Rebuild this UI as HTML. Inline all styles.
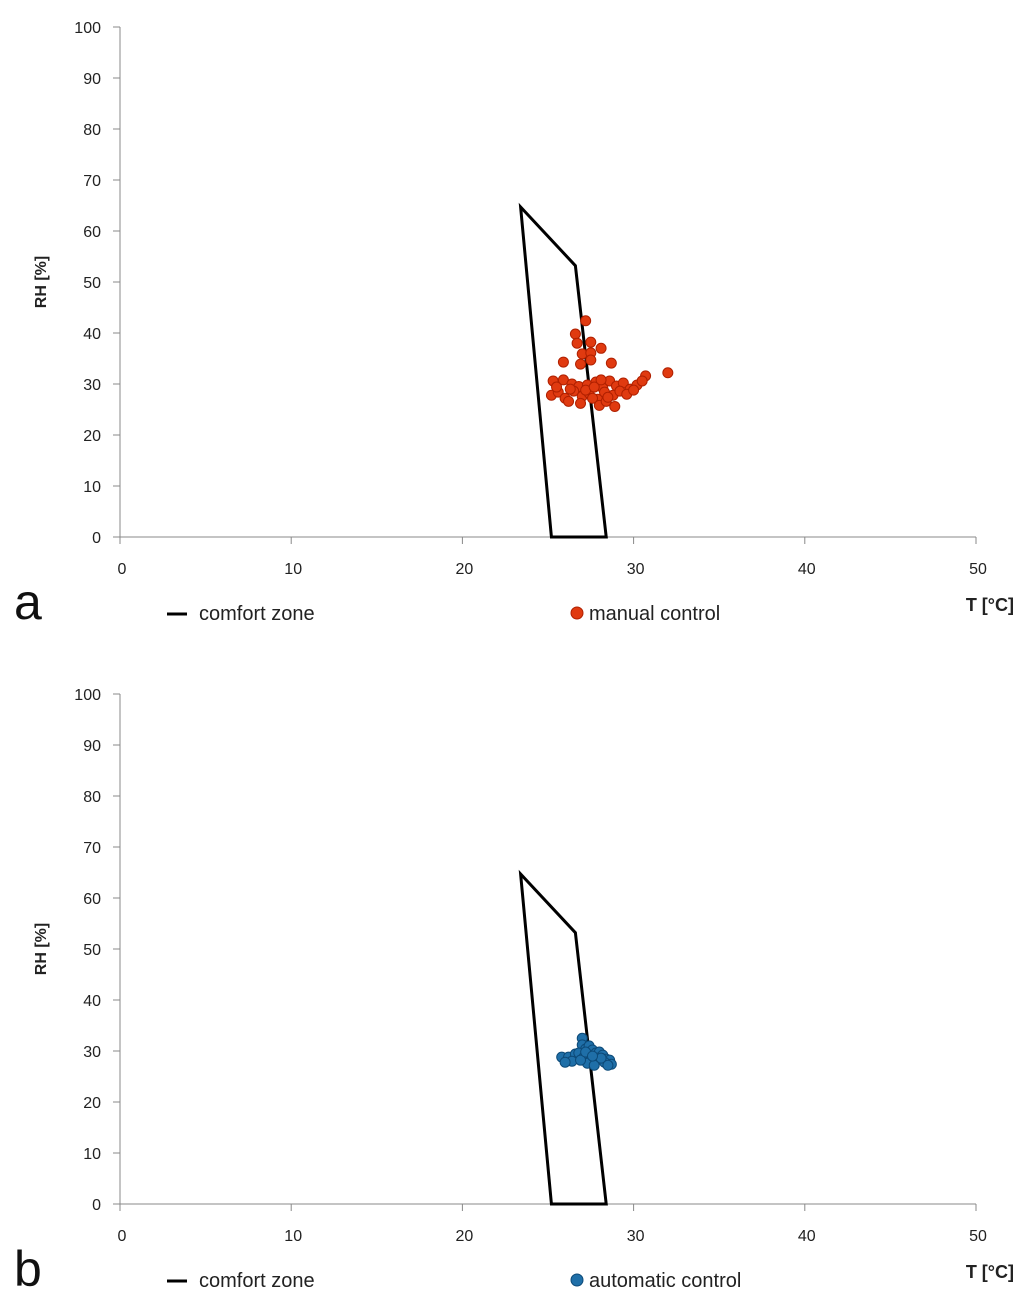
<!DOCTYPE html>
<html><head><meta charset="utf-8"><style>
body{margin:0;background:#fff;}
svg{display:block;font-family:"Liberation Sans",sans-serif;}
</style></head><body>
<svg id="chart" width="1024" height="1312"></svg>
<script>
const xTicks=[0,10,20,30,40,50];
const yTicks=[0,10,20,30,40,50,60,70,80,90,100];
const zoneT=[23.4,26.6,28.4,25.2];
const zoneRH=[64.7,53.2,0,0];
const manualT=[27.2,26.6,26.7,27.5,28.1,27.0,27.5,25.9,26.9,27.5,28.7,32.0,30.7,25.3,25.9,26.4,26.8,27.3,27.8,28.2,28.6,29.0,29.4,29.8,30.2,30.5,25.2,25.6,26.0,26.5,27.0,27.4,27.9,28.3,28.8,29.2,29.6,25.5,26.2,26.9,27.6,28.0,28.4,28.9,27.2,27.7,28.1,28.5,26.3,30.0];
const manualRH=[42.4,39.8,38.0,38.2,37.0,35.9,36.1,34.3,33.9,34.7,34.1,32.2,31.6,30.6,30.8,30.0,29.5,29.8,30.4,29.2,30.6,29.6,30.2,29.0,29.8,30.6,27.8,28.4,27.2,28.6,27.6,28.2,27.0,28.4,27.8,28.6,28.0,29.4,26.6,26.2,27.2,25.8,26.6,25.6,28.8,29.4,30.8,27.4,29.0,28.8];
const autoT=[25.8,26.2,26.6,27.0,27.0,27.2,27.4,27.6,27.8,28.0,28.2,28.4,28.6,28.7,26.8,27.1,27.5,27.9,28.3,26.4,27.3,27.7,28.1,28.5,26.0,26.9,27.2,27.6];
const autoRH=[28.8,28.8,29.4,32.5,31.2,30.4,31.0,30.2,29.6,29.8,29.2,28.4,28.2,27.4,29.6,28.8,28.2,28.6,27.8,28.0,27.6,27.2,28.6,27.2,27.8,28.2,29.8,29.0];
const NS='http://www.w3.org/2000/svg';
const svg=document.getElementById('chart');
function mk(tag,attrs,parent){const e=document.createElementNS(NS,tag);for(const k in attrs)e.setAttribute(k,attrs[k]);(parent||svg).appendChild(e);return e;}
function panel(y0,id,letter,T,RH,color,stroke,legendLabel){
  const g=mk('g',{});
  
  
  const xs=v=>120+v*17.12, ys=v=>y0-v*5.1;
  const ax=mk('path',{d:`M120,${ys(100)}V${y0}H${xs(50)}`,stroke:'#888',fill:'none','stroke-width':1},g);
  
  
  yTicks.forEach(v=>{
    mk('line',{x1:113,x2:120,y1:ys(v),y2:ys(v),stroke:'#888'},g);
    const t=mk('text',{x:101,y:ys(v)+6,'text-anchor':'end','font-size':16,fill:'#222'},g);t.textContent=v;
    
    
  });
  xTicks.forEach(v=>{
    mk('line',{x1:xs(v),x2:xs(v),y1:y0,y2:y0+7,stroke:'#888'},g);
    const t=mk('text',{x:xs(v)+2,y:y0+37,'text-anchor':'middle','font-size':16,fill:'#222'},g);t.textContent=v;
    
    
  });
  const yt=mk('text',{transform:`translate(46,${ys(50)}) rotate(-90)`,'text-anchor':'middle','font-size':16,'font-weight':'bold',fill:'#222'},g);yt.textContent='RH [%]';
  
  
  const xt=mk('text',{x:1014,y:y0+74,'text-anchor':'end','font-size':18,'font-weight':'bold',fill:'#222'},g);xt.textContent='T [°C]';
  
  
  const lt=mk('text',{x:14,y:y0+82,'font-size':50,fill:'#111'},g);lt.textContent=letter;
  
  
  const pts=zoneT.map((t,i)=>xs(t)+','+ys(zoneRH[i])).join(' ');
  const z=mk('polygon',{points:pts,fill:'none',stroke:'#000','stroke-width':3},g);
  
  
  T.forEach((t,i)=>{
    const c=mk('circle',{cx:xs(t),cy:ys(RH[i]),r:5,fill:color,stroke:stroke,'stroke-width':1},g);
    
    
  });
  const ll=mk('line',{x1:167,x2:187,y1:y0+77,y2:y0+77,stroke:'#000','stroke-width':3},g);
  
  
  const l1=mk('text',{x:199,y:y0+83,'font-size':20,fill:'#222'},g);l1.textContent='comfort zone';
  
  
  const lc=mk('circle',{cx:577,cy:y0+76,r:6,fill:color,stroke:stroke},g);
  
  
  const l2=mk('text',{x:589,y:y0+83,'font-size':20,fill:'#222'},g);l2.textContent=legendLabel;
  
  
}
panel(537,'a','a',manualT,manualRH,'#e03a10','#b02000','manual control');
panel(1204,'b','b',autoT,autoRH,'#1f6fa8','#0d4a78','automatic control');
</script>
</body></html>
